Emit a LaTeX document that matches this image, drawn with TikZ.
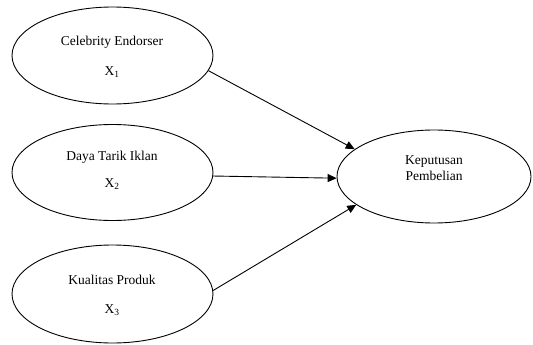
\documentclass[tikz,border=0pt]{standalone}
\usepackage{fontspec}
\setmainfont{Liberation Serif}
\usetikzlibrary{shapes.geometric,arrows.meta}
\begin{document}
\begin{tikzpicture}[x=1pt,y=-1pt,
  oval/.style={draw,ellipse,line width=0.9pt,inner sep=0pt},
  lbl/.style={font=\fontsize{13.5}{16}\selectfont,inner sep=0pt},
  conn/.style={line width=0.9pt,-{Triangle[length=9pt,width=8pt]}}]
\useasboundingbox (0,0) rectangle (533,345);
\node[oval,minimum width=201pt,minimum height=97pt] (e1) at (112.5,55.5) {};
\node[oval,minimum width=201pt,minimum height=96pt] (e2) at (112.5,172.5) {};
\node[oval,minimum width=201pt,minimum height=98pt] (e3) at (112.5,294) {};
\node[oval,minimum width=194pt,minimum height=93pt] (e4) at (434,176.5) {};
\node[lbl] (t1) at (112,42) {Celebrity Endorser};
\node[lbl] (s1) at (112,72) {X\textsubscript{1}};
\node[lbl] (t2) at (112,157) {Daya Tarik Iklan};
\node[lbl] (s2) at (112,184) {X\textsubscript{2}};
\node[lbl] (t3) at (112,280) {Kualitas Produk};
\node[lbl] (s3) at (112,310) {X\textsubscript{3}};
\node[lbl,align=center] (t4) at (434,168) {Keputusan\\Pembelian};
\draw[conn] (e1.-9) -- (e4.161);
\draw[conn] (e2.-2) -- (e4.181);
\draw[conn] (e3.2) -- (e4.200);
\end{tikzpicture}
\end{document}
